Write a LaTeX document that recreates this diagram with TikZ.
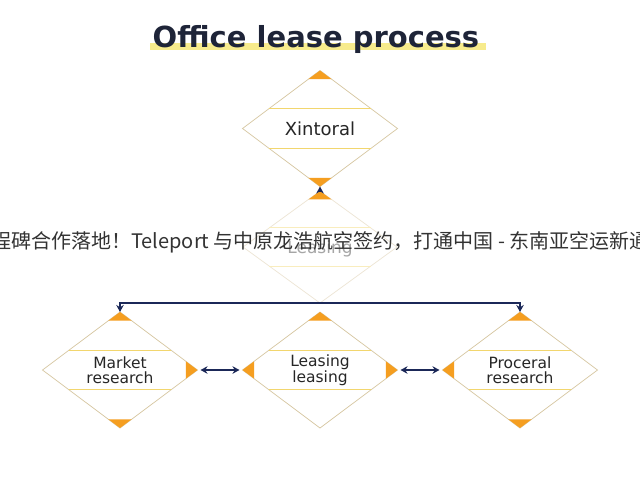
\documentclass[tikz,border=0pt]{standalone}
\usepackage{fontspec}
\setmainfont{DejaVu Sans}
\newfontfamily\cjk{Noto Sans CJK SC}
\usetikzlibrary{arrows.meta,calc,shapes.geometric}
\definecolor{leaseO}{RGB}{245,158,32}
\definecolor{leaseN}{RGB}{27,40,88}
\definecolor{leaseY}{RGB}{242,214,110}
\definecolor{leaseT}{RGB}{214,198,160}
\definecolor{leaseH}{RGB}{247,235,140}
\definecolor{leaseK}{RGB}{30,36,56}
% orange corner of a diamond: node, corner, its two neighbours
\newcommand{\leasetip}[4]{\fill[leaseO] (#1.#2) -- ($(#1.#2)!.15!(#1.#3)$) -- ($(#1.#2)!.15!(#1.#4)$) -- cycle;}
% the two yellow rules across a diamond
\newcommand{\leaseband}[2]{%
  \draw[#2] ($(#1.west)!.34!(#1.north)$) -- ($(#1.east)!.34!(#1.north)$);
  \draw[#2] ($(#1.west)!.34!(#1.south)$) -- ($(#1.east)!.34!(#1.south)$);}

\begin{document}
\begin{tikzpicture}[x=1pt,y=-1pt,>={Stealth[length=7pt,width=7.5pt]},
  box/.style={diamond,draw=leaseT,line width=0.7pt,minimum width=155pt,minimum height=116pt,
    inner sep=0pt,outer sep=0pt,align=center,text=black!85,font=\fontsize{15.5}{15.5}\selectfont},
  band/.style={leaseY,line width=1pt},
  link/.style={leaseN,line width=1.4pt}]
\clip (0,0) rectangle (640,480);
\fill[white] (0,0) rectangle (640,480);
% title
\fill[leaseH] (150,43) rectangle (486,50);
\node[anchor=base,text=leaseK,font=\fontsize{29}{32}\selectfont\bfseries] (title) at (316,47) {Office lease process};
% diamonds
\node[box,font=\fontsize{18}{20}\selectfont] (xin) at (320,128.5) {Xintoral};
\node[box,minimum width=154pt,minimum height=112pt,draw=leaseT!45,text=black!35,
  font=\fontsize{17}{20}\selectfont] (leas) at (320,247) {\raisebox{-6pt}[0pt][0pt]{Leasing}};
\node[box] (mkt) at (120,370) {Market\\research};
\node[box] (mid) at (320,370) {Leasing\\leasing};
\node[box] (proc) at (520,370) {Proceral\\research};
\leaseband{xin}{band}
\leaseband{leas}{band,leaseY!45}
\leaseband{mkt}{band}
\leaseband{mid}{band}
\leaseband{proc}{band}
\leasetip{xin}{north}{west}{east}
\leasetip{xin}{south}{west}{east}
\leasetip{leas}{north}{west}{east}
\leasetip{mkt}{north}{west}{east}
\leasetip{mkt}{east}{north}{south}
\leasetip{mkt}{south}{west}{east}
\leasetip{mid}{north}{west}{east}
\leasetip{mid}{west}{north}{south}
\leasetip{mid}{east}{north}{south}
\leasetip{proc}{north}{west}{east}
\leasetip{proc}{west}{north}{south}
\leasetip{proc}{south}{west}{east}
% connectors
\draw[link,->] (leas.north) -- (xin.south);
\draw[link,->] (leas.south) -| (mkt.north);
\draw[link,->] (leas.south) -| (proc.north);
\draw[link,<->,shorten <=3pt,shorten >=3pt] (mkt.east) -- (mid.west);
\draw[link,<->,shorten <=3pt,shorten >=3pt] (mid.east) -- (proc.west);
% banner across the picture
\node[anchor=base west,inner sep=0pt,text=black!80,font=\cjk\fontsize{20}{24}\selectfont] (banner) at (-9,248)
  {程碑合作落地！Teleport 与中原龙浩航空签约，打通中国 - 东南亚空运新通};
\end{tikzpicture}
\end{document}
